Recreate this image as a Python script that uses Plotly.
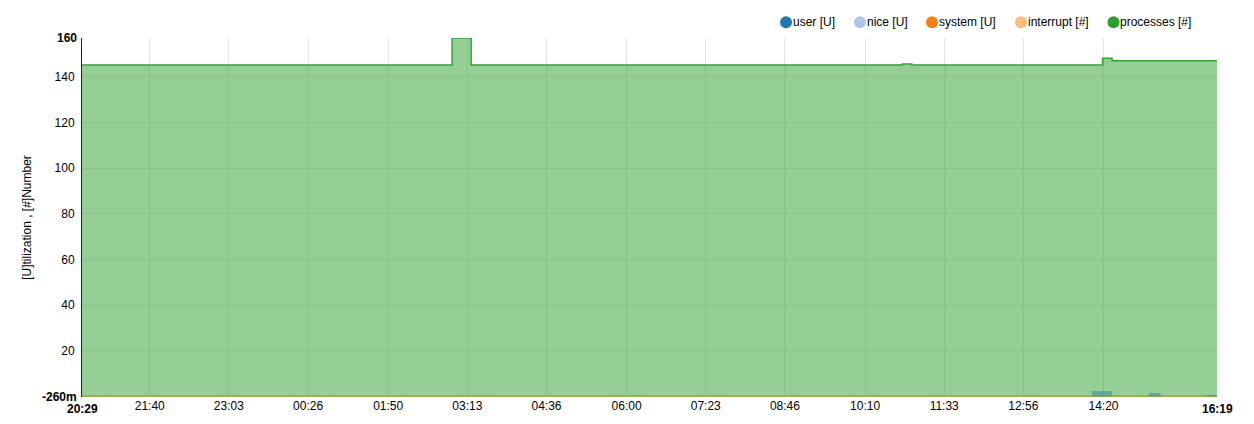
import pandas as pd
import plotly.graph_objects as go

# time breakpoints (step data)
times = ["2024-01-01 20:29", "2024-01-02 02:57", "2024-01-02 03:17", "2024-01-02 10:49",
         "2024-01-02 10:59", "2024-01-02 14:08", "2024-01-02 14:19", "2024-01-02 14:29",
         "2024-01-02 15:07", "2024-01-02 15:20", "2024-01-02 16:08", "2024-01-02 16:19"]

user = [0, 0, 0, 0, 0, 2.5, 2.5, 0, 1.5, 0, 0.8, 0.8]
nice = [0, 0, 0, 0, 0, 0, 0, 0, 0, 0, 0, 0]
system = [0, 0, 0, 0, 0, 0, 0, 0, 0, 0, 0, 0]
interrupt = [0, 0, 0, 0, 0, 0, 0, 0, 0, 0, 0, 0]
processes = [145.2, 157.0, 145.2, 145.6, 145.2, 142.7, 145.6, 147.0, 145.5, 147.0, 146.2, 146.2]

series_names = ["user [U]", "nice [U]", "system [U]", "interrupt [#]", "processes [#]"]
series_colors = ["#1f77b4", "#aec7e8", "#ff7f0e", "#ffbb78", "#2ca02c"]

# x tick labels
x_ticks = ["21:40", "23:03", "00:26", "01:50", "03:13", "04:36", "06:00",
           "07:23", "08:46", "10:10", "11:33", "12:56", "14:20"]
y_ticks = [20, 40, 60, 80, 100, 120, 140]
y_min, y_max = -0.26, 157.0

x = pd.to_datetime(times)
start, end = x[0], x[-1]
tick_vals = []
for t in x_ticks:
    d = pd.Timestamp("2024-01-01 " + t)
    if d < start:
        d = d + pd.Timedelta(days=1)
    tick_vals.append(d)

fig = go.Figure()
# zero series first (they only show as the olive base line), then user on top of them
fig.add_trace(go.Scatter(x=x, y=interrupt, name=series_names[3], stackgroup="one", mode="lines",
                         line=dict(color="#c6b04c", width=2, shape="hv"),
                         fillcolor="rgba(255,187,120,0.5)"))
fig.add_trace(go.Scatter(x=x, y=system, name=series_names[2], stackgroup="one", mode="lines",
                         line=dict(color=series_colors[2], width=0, shape="hv"),
                         fillcolor="rgba(255,127,14,0.5)"))
fig.add_trace(go.Scatter(x=x, y=nice, name=series_names[1], stackgroup="one", mode="lines",
                         line=dict(color=series_colors[1], width=0, shape="hv"),
                         fillcolor="rgba(174,199,232,0.5)"))
fig.add_trace(go.Scatter(x=x, y=user, name=series_names[0], stackgroup="one", mode="lines",
                         line=dict(color="#3c9c8c", width=0, shape="hv"),
                         fillcolor="rgba(45,140,125,0.75)"))
fig.add_trace(go.Scatter(x=x, y=processes, name=series_names[4], stackgroup="one", mode="lines",
                         line=dict(color="#33a333", width=1.5, shape="hv"),
                         fillcolor="rgba(44,160,44,0.5)"))

fig.update_layout(
    width=1254, height=424,
    margin=dict(l=74, r=45, t=30, b=35),
    paper_bgcolor="white", plot_bgcolor="white",
    font=dict(family="Liberation Sans, Arial, sans-serif", size=12, color="#000"),
    showlegend=False,
)
fig.update_xaxes(type="date", range=[start, end], tickvals=tick_vals, ticktext=x_ticks,
                 showgrid=True, gridcolor="#e5e5e5", zeroline=False, showline=False,
                 ticks="", tickfont=dict(size=12))
fig.update_yaxes(range=[y_min, y_max], tickvals=y_ticks, showgrid=True, gridcolor="#e5e5e5",
                 zeroline=False, showline=True, linecolor="#222", linewidth=1, ticks="",
                 ticklabelstandoff=4,
                 title=dict(text="[U]tilization , [#]Number", standoff=20, font=dict(size=12)))

# bold extent labels
fig.add_annotation(x=0, xref="paper", y=y_max, yref="y", text="<b>160</b>", showarrow=False,
                   xanchor="right", xshift=-3)
fig.add_annotation(x=0, xref="paper", y=y_min, yref="y", text="<b>-260m</b>", showarrow=False,
                   xanchor="right", xshift=-3)
fig.add_annotation(x=start, xref="x", y=0, yref="paper", text="<b>20:29</b>", showarrow=False,
                   yanchor="top", yshift=-3)
fig.add_annotation(x=end, xref="x", y=0, yref="paper", text="<b>16:19</b>", showarrow=False,
                   yanchor="top", yshift=-3)

# legend: filled circles with labels, top right
leg_x = [0.6203, 0.6855, 0.7489, 0.8273, 0.9088]
leg_y = 1.0437
for name, col, lx in zip(series_names, series_colors, leg_x):
    fig.add_shape(type="circle", xref="paper", yref="paper", xsizemode="pixel", ysizemode="pixel",
                  xanchor=lx, yanchor=leg_y, x0=-6, x1=6, y0=-6, y1=6,
                  fillcolor=col, line=dict(width=0))
    fig.add_annotation(x=lx, xref="paper", y=leg_y, yref="paper", text=name, showarrow=False,
                       xanchor="left", yanchor="middle", xshift=5, font=dict(size=12, color="#000"))

fig.write_html("out.html")
